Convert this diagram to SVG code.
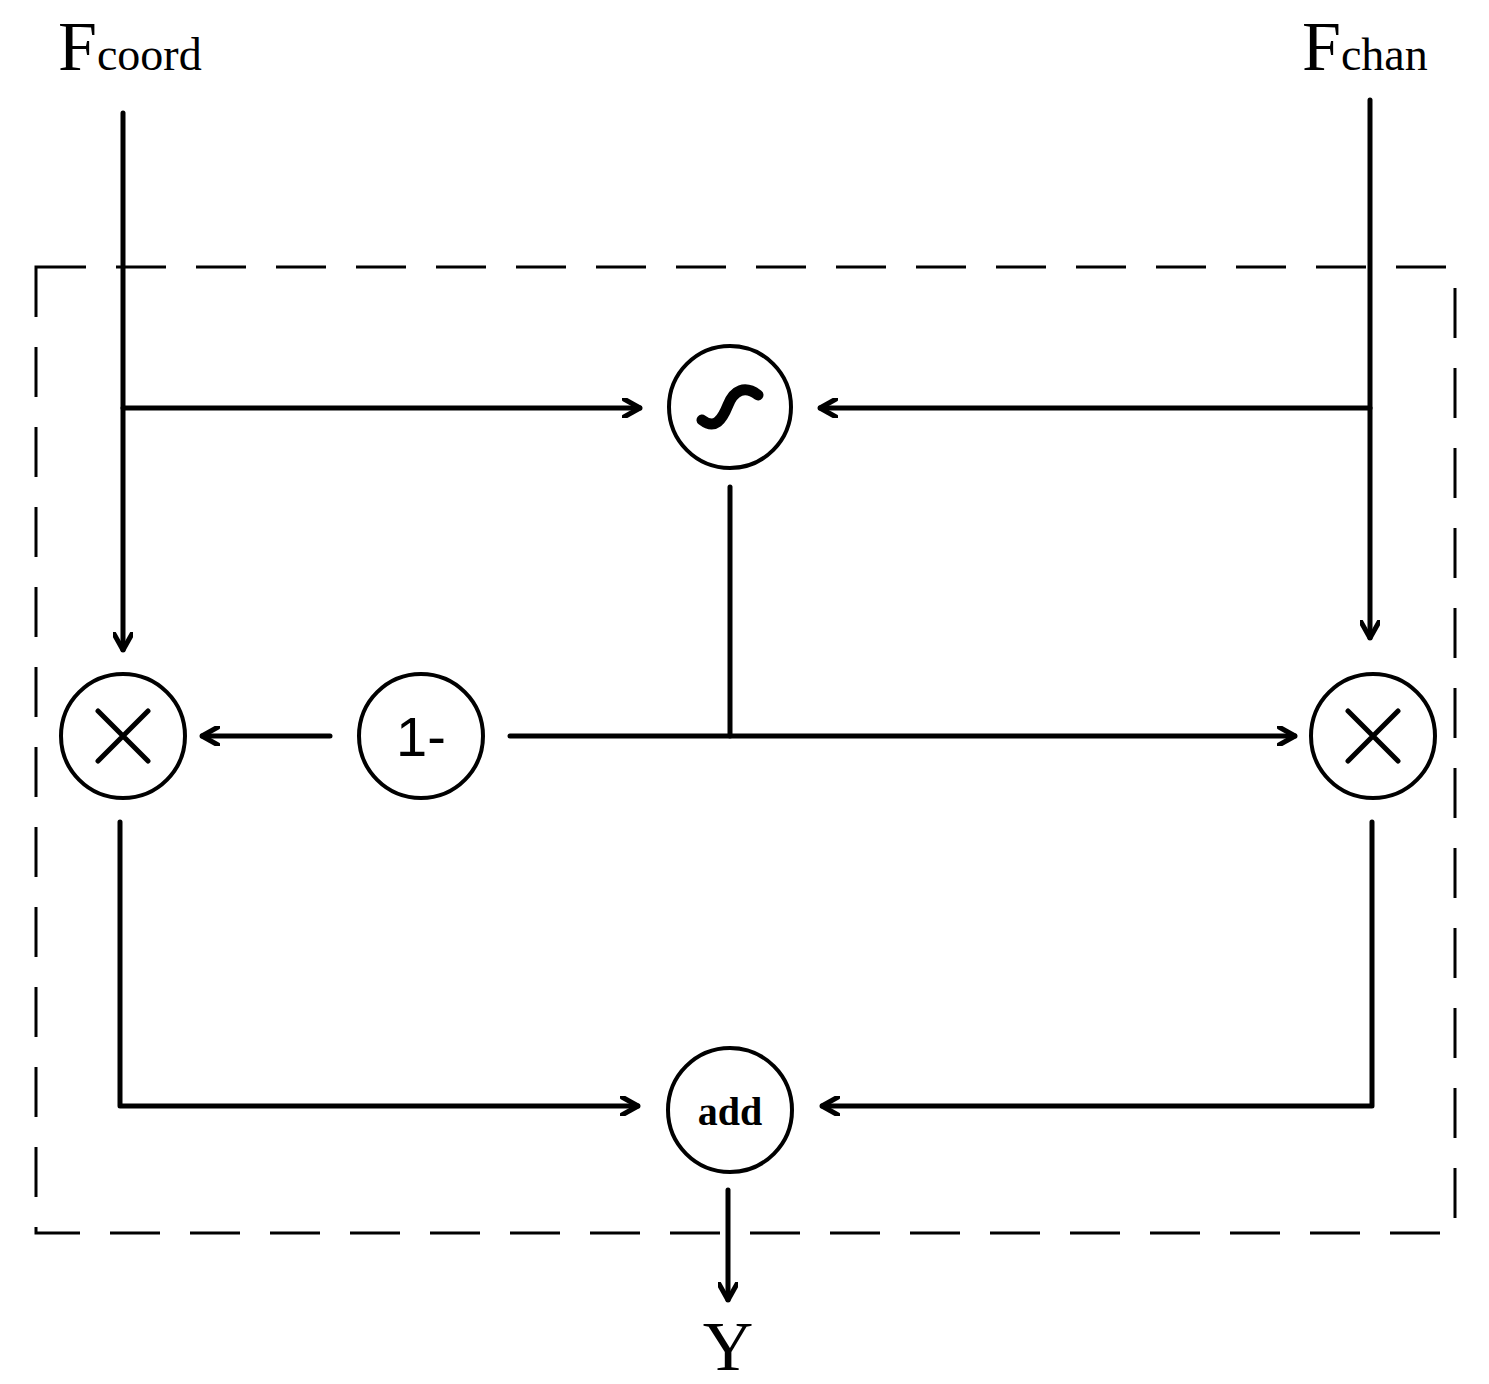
<svg xmlns="http://www.w3.org/2000/svg" width="1489" height="1384" viewBox="0 0 1489 1384">
<style>
.l{fill:none;stroke:#000;stroke-width:5;stroke-linecap:round;stroke-linejoin:round}
.c{fill:#fff;stroke:#000;stroke-width:4}
.t{font-family:"Liberation Serif",serif;fill:#000}
</style>
<defs>
<marker id="a" viewBox="0 0 20 20" refX="18" refY="10" markerWidth="20" markerHeight="20" markerUnits="userSpaceOnUse" orient="auto">
<path d="M2 1 L18 10 L2 19" fill="none" stroke="#000" stroke-width="5" stroke-linecap="round" stroke-linejoin="round"/>
</marker>
</defs>
<rect x="36" y="267" width="1419" height="966" fill="none" stroke="#000" stroke-width="3" stroke-dasharray="50 30"/>
<g id="connectors">
<path class="l" d="M123 113 V650" marker-end="url(#a)"/>
<path class="l" d="M123 408 H640" marker-end="url(#a)"/>
<path class="l" d="M1370 100 V638" marker-end="url(#a)"/>
<path class="l" d="M1370 408 H820" marker-end="url(#a)"/>
<path class="l" d="M730 487 V736"/>
<path class="l" d="M510 736 H1295" marker-end="url(#a)"/>
<path class="l" d="M330 736 H202" marker-end="url(#a)"/>
<path class="l" d="M120 822 V1106 H638" marker-end="url(#a)"/>
<path class="l" d="M1372 822 V1106 H822" marker-end="url(#a)"/>
<path class="l" d="M728 1190 V1300" marker-end="url(#a)"/>
</g>
<g id="Fcoord"><text class="t" x="58" y="70" font-size="70">F<tspan font-size="46">coord</tspan></text></g>
<g id="Fchan"><text class="t" x="1302" y="70" font-size="70">F<tspan font-size="46">chan</tspan></text></g>
<g id="sigmoid"><circle class="c" cx="730" cy="407" r="61"/>
<path d="M702 420 C715 430 722 420 728 405 C734 390 745 385 758 395" fill="none" stroke="#000" stroke-width="11" stroke-linecap="round"/></g>
<g id="oneminus"><circle class="c" cx="421" cy="736" r="62"/>
<text x="421" y="756" font-family="Liberation Sans,Arial,sans-serif" font-size="56" text-anchor="middle">1-</text></g>
<g id="mulL"><circle class="c" cx="123" cy="736" r="62"/><path class="l" d="M98 711 L148 761 M148 711 L98 761"/></g>
<g id="mulR"><circle class="c" cx="1373" cy="736" r="62"/><path class="l" d="M1348 711 L1398 761 M1398 711 L1348 761"/></g>
<g id="add"><circle class="c" cx="730" cy="1110" r="62"/>
<text class="t" x="730" y="1125" font-size="40" font-weight="bold" text-anchor="middle">add</text></g>
<g id="Y"><text class="t" x="728" y="1370" font-size="70" text-anchor="middle">Y</text></g>
</svg>
